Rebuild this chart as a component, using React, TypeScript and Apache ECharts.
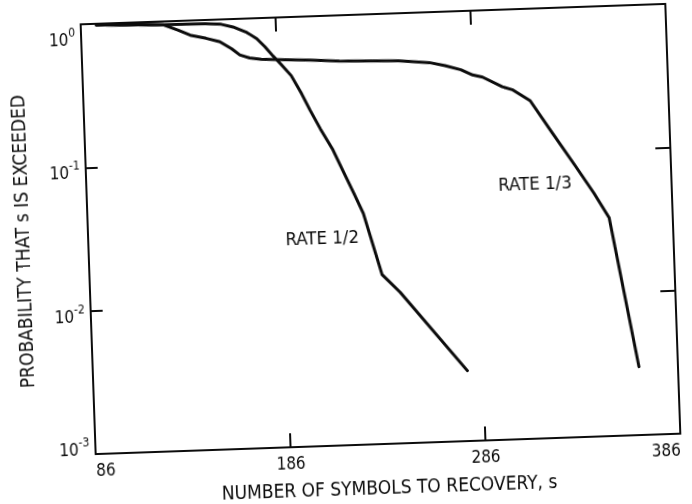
import React, { useEffect, useRef } from "react";
import * as echarts from "echarts";

// Number of symbols to recovery, s (x) and probability that s is exceeded (y)
const rateHalfS = [94, 128, 150, 158, 164, 171, 176, 180, 184, 188, 193, 198, 202, 207, 213, 218, 223, 227.5, 236, 245, 278];
const rateHalfP = [0.98, 0.95, 0.94, 0.925, 0.88, 0.8, 0.72, 0.63, 0.54, 0.47, 0.39, 0.29, 0.222, 0.163, 0.116, 0.081, 0.057, 0.041, 0.0152, 0.0113, 0.0031];

const rateThirdS = [94, 128, 136, 142, 150, 157, 163, 167, 172, 178, 190, 203, 218, 248, 264, 272, 280, 286, 291, 301, 306, 315, 326, 337, 346, 353.4, 366];
const rateThirdP = [0.98, 0.95, 0.86, 0.79, 0.745, 0.7, 0.62, 0.56, 0.53, 0.515, 0.505, 0.496, 0.48, 0.467, 0.445, 0.42, 0.39, 0.356, 0.342, 0.29, 0.275, 0.228, 0.133, 0.078, 0.05, 0.0333, 0.003];

// Curve labels, placed in data coordinates
const rateHalfLabel = "RATE 1/2";
const rateHalfLabelAt = [206, 0.0283];
const rateThirdLabel = "RATE 1/3";
const rateThirdLabelAt = [316, 0.0606];

// Axis ranges and tick labels
const xMin = 86;
const xMax = 386;
const xStep = 100;
const yMin = 0.001;
const yMax = 1;
const yDecadeValues = [1, 0.1, 0.01, 0.001];
const yExponents = ["0", "-1", "-2", "-3"];

const xTitle = "NUMBER OF SYMBOLS TO RECOVERY, s";
const yTitle = "PROBABILITY THAT s IS EXCEEDED";

const FONT = "'DejaVu Sans Condensed', 'DejaVu Sans', sans-serif";
const INK = "#0c0c0c";

function pairs(xs: number[], ys: number[]) {
  return xs.map((x, i) => [x, ys[i]]);
}

// Superscript exponent labels: padding moves "10" and its exponent together
function supStyles() {
  const rich: Record<string, any> = {};
  const base = 17;
  const sup = 12;
  // [shift of the "10" relative to the tick, total box height]
  const shifts: [number, number][] = [
    [15, 60],
    [5, 40],
    [5, 40],
    [-5, 40],
  ];
  shifts.forEach(([d, h], i) => {
    const a = h / 2 - base / 2 + d;
    const c = h / 2 - sup / 2 - 7 + d;
    rich["b" + i] = {
      fontSize: base,
      fontFamily: FONT,
      color: INK,
      padding: [a, 0, h - base - a, 0],
    };
    rich["s" + i] = {
      fontSize: sup,
      fontFamily: FONT,
      color: INK,
      padding: [c, 0, h - sup - c, 0],
    };
  });
  return rich;
}

function curveLabel(text: string, at: number[]) {
  return {
    silent: true,
    symbol: "circle",
    symbolSize: 0,
    itemStyle: { color: "transparent" },
    label: {
      show: true,
      position: "inside",
      formatter: text,
      color: INK,
      fontSize: 18.5,
      fontFamily: FONT,
    },
    data: [{ coord: at }],
  };
}

export default function App() {
  const ref = useRef<HTMLDivElement>(null);

  useEffect(() => {
    if (!ref.current) return;
    const chart = echarts.init(ref.current, null, { renderer: "svg" });

    const frameLine = { show: true, lineStyle: { color: INK, width: 2 } };
    const inTick = (len: number) => ({
      show: true,
      inside: true,
      length: len,
      lineStyle: { color: INK, width: 2 },
    });

    const yLabelFormatter = (v: number) => {
      const i = yDecadeValues.findIndex((d) => Math.abs(Math.log10(d) - Math.log10(v)) < 1e-6);
      if (i < 0) return "";
      return `{b${i}|10}{s${i}|${yExponents[i]}}`;
    };

    chart.setOption({
      animation: false,
      backgroundColor: "#fff",
      grid: { left: 88, top: 14, width: 585, height: 430, containLabel: false },
      xAxis: [
        {
          type: "value",
          min: xMin,
          max: xMax,
          interval: xStep,
          position: "bottom",
          axisLine: frameLine,
          axisTick: inTick(14),
          splitLine: { show: false },
          axisLabel: {
            color: INK,
            fontSize: 17,
            fontFamily: FONT,
            margin: 7,
            alignMinLabel: "left",
            alignMaxLabel: "right",
          },
          name: xTitle,
          nameLocation: "middle",
          nameGap: 33,
          nameTextStyle: { color: INK, fontSize: 19, fontFamily: FONT },
        },
        {
          type: "value",
          min: xMin,
          max: xMax,
          interval: xStep,
          position: "top",
          axisLine: frameLine,
          axisTick: inTick(14),
          splitLine: { show: false },
          axisLabel: { show: false },
        },
      ],
      yAxis: [
        {
          type: "log",
          logBase: 10,
          min: yMin,
          max: yMax,
          position: "left",
          axisLine: frameLine,
          axisTick: inTick(12),
          splitLine: { show: false },
          minorTick: { show: false },
          axisLabel: {
            formatter: yLabelFormatter,
            margin: 6,
            rich: supStyles(),
          },
          name: yTitle,
          nameLocation: "middle",
          nameGap: 57,
          nameTextStyle: { color: INK, fontSize: 19, fontFamily: FONT },
        },
        {
          type: "log",
          logBase: 10,
          min: yMin,
          max: yMax,
          position: "right",
          axisLine: frameLine,
          axisTick: inTick(15),
          splitLine: { show: false },
          axisLabel: { show: false },
        },
      ],
      series: [
        {
          name: rateHalfLabel,
          type: "line",
          xAxisIndex: 0,
          yAxisIndex: 0,
          data: pairs(rateHalfS, rateHalfP),
          showSymbol: false,
          lineStyle: { color: INK, width: 3, join: "round", cap: "round" },
          markPoint: curveLabel(rateHalfLabel, rateHalfLabelAt),
        },
        {
          name: rateThirdLabel,
          type: "line",
          xAxisIndex: 0,
          yAxisIndex: 0,
          data: pairs(rateThirdS, rateThirdP),
          showSymbol: false,
          lineStyle: { color: INK, width: 3, join: "round", cap: "round" },
          markPoint: curveLabel(rateThirdLabel, rateThirdLabelAt),
        },
      ],
    });

    return () => chart.dispose();
  }, []);

  return (
    <div
      ref={ref}
      style={{
        position: "fixed",
        left: 0,
        top: 0,
        width: 692,
        height: 504,
        transform: "rotate(-2deg)",
        transformOrigin: "380.5px 229.5px",
      }}
    />
  );
}
